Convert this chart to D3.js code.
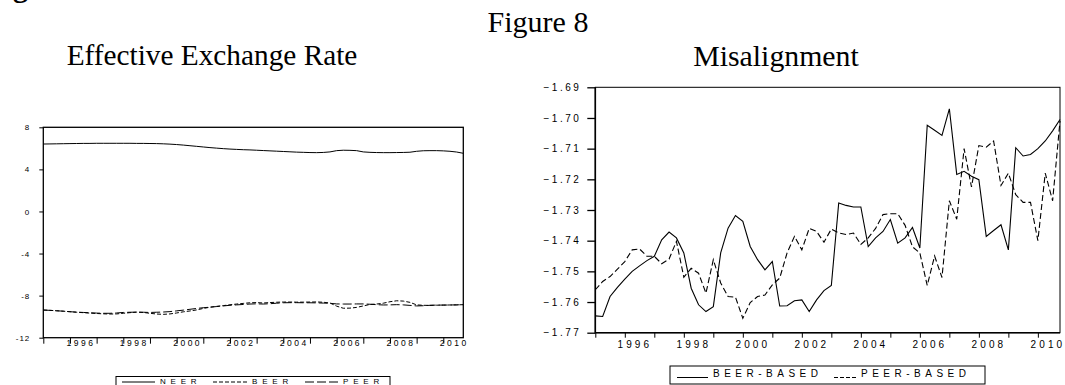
<!DOCTYPE html>
<html>
<head>
<meta charset="utf-8">
<script src="https://cdn.jsdelivr.net/npm/d3@7"></script>
<style>
  body { margin: 0; background: #fff; }
  svg { display: block; }
  .ax text { font-family: "Liberation Sans", Arial, sans-serif; fill: #000; }
  .ttl { font-family: "Liberation Serif", "Times New Roman", serif; fill: #000; }
</style>
</head>
<body>
<svg id="fig" width="1065" height="385"></svg>
<script>
// quarterly data, 1995Q1 .. 2010Q4
const years = d3.range(1995, 2011);
const yearLabels = [1996, 1998, 2000, 2002, 2004, 2006, 2008, 2010];

const leftTicks = [8, 4, 0, -4, -8, -12];
const rightTicks = [-1.69, -1.70, -1.71, -1.72, -1.73, -1.74, -1.75, -1.76, -1.77];

const neer = [
  6.41, 6.42, 6.43, 6.44, 6.45, 6.46, 6.47, 6.47, 6.48, 6.48, 6.48, 6.48,
  6.48, 6.48, 6.47, 6.47, 6.46, 6.45, 6.43, 6.40, 6.36, 6.31, 6.25, 6.19,
  6.13, 6.07, 6.02, 5.97, 5.93, 5.90, 5.87, 5.85, 5.82, 5.79, 5.76, 5.73,
  5.70, 5.67, 5.64, 5.62, 5.60, 5.59, 5.61, 5.66, 5.78, 5.82, 5.81, 5.78,
  5.66, 5.62, 5.60, 5.59, 5.59, 5.60, 5.61, 5.63, 5.72, 5.77, 5.78, 5.78,
  5.76, 5.72, 5.65, 5.53
];
const beer = [
  -9.37, -9.40, -9.44, -9.48, -9.53, -9.58, -9.62, -9.66, -9.70, -9.73, -9.75, -9.74,
  -9.68, -9.62, -9.57, -9.60, -9.68, -9.75, -9.78, -9.74, -9.65, -9.54, -9.46, -9.36,
  -9.22, -9.10, -9.02, -8.95, -8.87, -8.80, -8.74, -8.68, -8.66, -8.70, -8.66, -8.63,
  -8.61, -8.61, -8.62, -8.62, -8.61, -8.60, -8.63, -8.70, -9.00, -9.20, -9.19, -9.12,
  -8.98, -8.84, -8.80, -8.72, -8.58, -8.49, -8.52, -8.64, -8.88, -8.92, -8.93, -8.91,
  -8.90, -8.89, -8.88, -8.86
];
const peer = [
  -9.37, -9.40, -9.44, -9.48, -9.53, -9.57, -9.60, -9.63, -9.66, -9.68, -9.68, -9.65,
  -9.60, -9.58, -9.57, -9.58, -9.60, -9.58, -9.56, -9.52, -9.45, -9.38, -9.30, -9.22,
  -9.15, -9.10, -9.04, -8.98, -8.92, -8.88, -8.84, -8.80, -8.78, -8.80, -8.77, -8.72,
  -8.68, -8.67, -8.67, -8.68, -8.68, -8.69, -8.71, -8.73, -8.79, -8.80, -8.80, -8.79,
  -8.79, -8.82, -8.86, -8.89, -8.88, -8.86, -8.88, -8.93, -8.98, -8.96, -8.92, -8.90,
  -8.90, -8.89, -8.88, -8.86
];

const beerBased = [
  -1.7645, -1.7647, -1.7582, -1.7552, -1.7525, -1.7500, -1.7482, -1.7465,
  -1.7451, -1.7397, -1.7372, -1.7391, -1.7440, -1.7555, -1.7609, -1.7631,
  -1.7615, -1.7440, -1.7359, -1.7318, -1.7337, -1.7419, -1.7462, -1.7495,
  -1.7468, -1.7613, -1.7612, -1.7596, -1.7593, -1.7631, -1.7593, -1.7563,
  -1.7546, -1.7277, -1.7285, -1.7290, -1.7290, -1.7419, -1.7391, -1.7370,
  -1.7331, -1.7408, -1.7391, -1.7357, -1.7424, -1.7024, -1.7040, -1.7057,
  -1.6970, -1.7184, -1.7174, -1.7190, -1.7201, -1.7386, -1.7367, -1.7348,
  -1.7430, -1.7097, -1.7124, -1.7119, -1.7100, -1.7075, -1.7042, -1.7005
];
const peerBased = [
  -1.7560, -1.7533, -1.7517, -1.7493, -1.7468, -1.7430, -1.7427, -1.7451,
  -1.7451, -1.7475, -1.7460, -1.7402, -1.7519, -1.7490, -1.7506, -1.7571,
  -1.7462, -1.7538, -1.7582, -1.7584, -1.7653, -1.7602, -1.7582, -1.7577,
  -1.7544, -1.7522, -1.7440, -1.7386, -1.7430, -1.7360, -1.7370, -1.7405,
  -1.7362, -1.7375, -1.7380, -1.7375, -1.7412, -1.7391, -1.7360, -1.7315,
  -1.7312, -1.7312, -1.7350, -1.7420, -1.7440, -1.7546, -1.7450, -1.7520,
  -1.7270, -1.7330, -1.7100, -1.7225, -1.7090, -1.7095, -1.7075, -1.7220,
  -1.7180, -1.7250, -1.7275, -1.7275, -1.7400, -1.7180, -1.7270, -1.7010
];

const svg = d3.select('#fig');
const font = '"Liberation Sans", Arial, sans-serif';
const qIndex = y => (y - 1995) * 4;

// titles (the "g" is the tail of a heading cut off at the top edge)
svg.append('text').attr('class', 'ttl').attr('x', 13).attr('y', -3)
  .attr('font-size', 30).attr('font-weight', 'bold').text('g');
svg.append('text').attr('class', 'ttl').attr('x', 538).attr('y', 31.5)
  .attr('text-anchor', 'middle').attr('font-size', 30).text('Figure 8');
svg.append('text').attr('class', 'ttl').attr('x', 212).attr('y', 65)
  .attr('text-anchor', 'middle').attr('font-size', 29.3).text('Effective Exchange Rate');
svg.append('text').attr('class', 'ttl').attr('x', 776).attr('y', 66)
  .attr('text-anchor', 'middle').attr('font-size', 29.8).text('Misalignment');

// ---------- left panel ----------
const xL = d3.scaleLinear().domain([0, 63]).range([43.3, 463.3]);
const yL = d3.scaleLinear().domain([-12, 8]).range([337.7, 127.3]);
const gL = svg.append('g');

gL.append('rect').attr('x', xL(0)).attr('y', yL(8))
  .attr('width', xL(63) - xL(0)).attr('height', yL(-12) - yL(8))
  .attr('fill', 'none').attr('stroke', '#000').attr('stroke-width', 1.3);

const axL = gL.append('g').attr('class', 'ax')
  .attr('transform', 'translate(' + xL(0) + ',0)')
  .call(d3.axisLeft(yL).tickValues(leftTicks).tickSize(4).tickPadding(9)
    .tickFormat(d => d));
axL.select('.domain').remove();
axL.selectAll('text').attr('font-size', 8).attr('letter-spacing', 1)
  .attr('font-family', font);

const axLb = gL.append('g').attr('class', 'ax')
  .attr('transform', 'translate(0,' + yL(-12) + ')')
  .call(d3.axisBottom(xL).tickValues(years.map(qIndex)).tickSize(6).tickFormat(''));
axLb.select('.domain').remove();
gL.selectAll('.ylab').data(yearLabels).enter().append('text')
  .attr('class', 'ylab')
  .attr('x', d => xL(qIndex(d) + 1.5) + 1)
  .attr('y', 346)
  .attr('text-anchor', 'middle')
  .attr('font-family', font).attr('font-size', 8.5).attr('letter-spacing', 2.5)
  .text(d => d);

const lineL = d3.line().x((d, i) => xL(i)).y(d => yL(d));
const leftSeries = [
  { name: 'NEER', values: neer, dash: null },
  { name: 'BEER', values: beer, dash: '4,2' },
  { name: 'PEER', values: peer, dash: '9,3' }
];
gL.selectAll('.ser').data(leftSeries).enter().append('path')
  .attr('class', 'ser')
  .attr('d', d => lineL(d.values))
  .attr('fill', 'none').attr('stroke', '#000').attr('stroke-width', 1)
  .attr('stroke-dasharray', d => d.dash);

// left legend (cut by the lower edge, as in the source)
const legL = gL.append('g');
legL.append('rect').attr('x', 116).attr('y', 376.5).attr('width', 274).attr('height', 16)
  .attr('fill', 'none').attr('stroke', '#000').attr('stroke-width', 1);
const legLPos = [[122, 155, 160], [213, 248, 252], [305, 338, 343]];
leftSeries.forEach((s, i) => {
  const p = legLPos[i];
  legL.append('line').attr('x1', p[0]).attr('x2', p[1]).attr('y1', 382).attr('y2', 382)
    .attr('stroke', '#000').attr('stroke-width', 1).attr('stroke-dasharray', s.dash);
  legL.append('text').attr('x', p[2]).attr('y', 384)
    .attr('font-family', font).attr('font-size', 8).attr('letter-spacing', 4.8)
    .text(s.name);
});

// ---------- right panel ----------
const xR = d3.scaleLinear().domain([0, 63]).range([595.3, 1060]);
const yR = d3.scaleLinear().domain([-1.77, -1.69]).range([332.7, 87.3]);
const gR = svg.append('g');

gR.append('rect').attr('x', xR(0)).attr('y', yR(-1.69))
  .attr('width', xR(63) - xR(0)).attr('height', yR(-1.77) - yR(-1.69))
  .attr('fill', 'none').attr('stroke', '#000').attr('stroke-width', 1);
gR.append('path')
  .attr('d', 'M' + xR(0) + ',' + yR(-1.69) + 'V' + yR(-1.77) + 'H' + xR(63))
  .attr('fill', 'none').attr('stroke', '#000').attr('stroke-width', 1.6);

const axR = gR.append('g').attr('class', 'ax')
  .attr('transform', 'translate(' + xR(0) + ',0)')
  .call(d3.axisLeft(yR).tickValues(rightTicks).tickSize(8).tickPadding(6)
    .tickFormat(d3.format('.2f')));
axR.select('.domain').remove();
axR.selectAll('line').attr('stroke-width', 1.3);
axR.selectAll('text').attr('font-size', 10).attr('letter-spacing', 2.5)
  .attr('font-family', font);

const axRb = gR.append('g').attr('class', 'ax')
  .attr('transform', 'translate(0,' + yR(-1.77) + ')')
  .call(d3.axisBottom(xR).tickValues(years.map(qIndex)).tickSize(5).tickFormat(''));
axRb.select('.domain').remove();
gR.selectAll('.ylab').data(yearLabels).enter().append('text')
  .attr('class', 'ylab')
  .attr('x', d => xR(qIndex(d) + 1.5) - 1)
  .attr('y', 348)
  .attr('text-anchor', 'middle')
  .attr('font-family', font).attr('font-size', 10).attr('letter-spacing', 3.1)
  .text(d => d);

const lineR = d3.line().x((d, i) => xR(i)).y(d => yR(d));
const rightSeries = [
  { name: 'BEER-BASED', values: beerBased, dash: null },
  { name: 'PEER-BASED', values: peerBased, dash: '6,3' }
];
gR.selectAll('.ser').data(rightSeries).enter().append('path')
  .attr('class', 'ser')
  .attr('d', d => lineR(d.values))
  .attr('fill', 'none').attr('stroke', '#000').attr('stroke-width', 1.1)
  .attr('stroke-dasharray', d => d.dash);

// right legend
const legR = gR.append('g');
legR.append('rect').attr('x', 670).attr('y', 366).attr('width', 315).attr('height', 18)
  .attr('fill', 'none').attr('stroke', '#000').attr('stroke-width', 1);
const legRPos = [[677, 708, 713], [834, 857, 861]];
rightSeries.forEach((s, i) => {
  const p = legRPos[i];
  legR.append('line').attr('x1', p[0]).attr('x2', p[1]).attr('y1', 377.5).attr('y2', 377.5)
    .attr('stroke', '#000').attr('stroke-width', 1)
    .attr('stroke-dasharray', s.dash ? '4,2' : null);
  legR.append('text').attr('x', p[2]).attr('y', 377)
    .attr('font-family', font).attr('font-size', 10).attr('letter-spacing', 4.5)
    .text(s.name);
});
</script>
</body>
</html>
